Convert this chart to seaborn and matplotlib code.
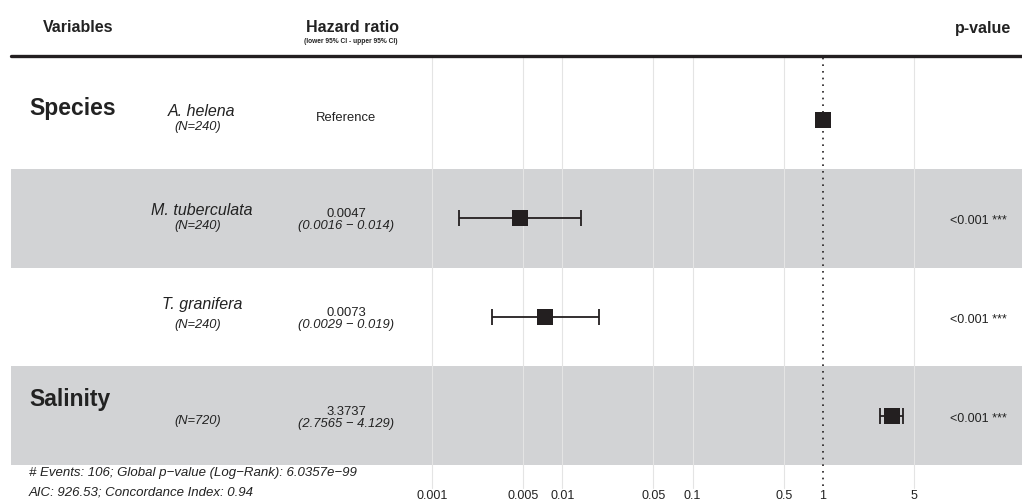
import numpy as np
import pandas as pd
import seaborn as sns
import matplotlib.pyplot as plt
from matplotlib.transforms import blended_transform_factory


# data
variables = ["Species", "", "", "Salinity"]
levels = ["A. helena", "M. tuberculata", "T. granifera", ""]
n_obs = [240, 240, 240, 720]
hr = [1.0, 0.0047, 0.0073, 3.3737]
ci_low = [np.nan, 0.0016, 0.0029, 2.7565]
ci_high = [np.nan, 0.014, 0.019, 4.129]
hr_text = ["Reference", "0.0047", "0.0073", "3.3737"]
ci_text = ["", "(0.0016 \u2212 0.014)", "(0.0029 \u2212 0.019)", "(2.7565 \u2212 4.129)"]
p_text = ["", "<0.001 ***", "<0.001 ***", "<0.001 ***"]
breaks = [0.001, 0.005, 0.01, 0.05, 0.1, 0.5, 1, 5]
break_labels = ["0.001", "0.005", "0.01", "0.05", "0.1", "0.5", "1", "5"]
footnote = ["# Events: 106; Global p\u2212value (Log\u2212Rank): 6.0357e\u221299",
            "AIC: 926.53; Concordance Index: 0.94"]

df = pd.DataFrame({"var": variables, "level": levels, "n": n_obs,
                   "hr": hr, "low": ci_low, "high": ci_high})
df["row"] = np.arange(len(df))

W, H = 1022, 502
ROW = 98.7      # px per row
ROW0 = 120.5    # px centre of first row
INK = "#231f20"
TXT = "#222222"
BAND = "#d2d3d5"

sns.set_theme(style="white")
plt.rcParams["font.family"] = ["Liberation Sans", "DejaVu Sans"]

fig = plt.figure(figsize=(W / 100, H / 100), dpi=100)
ax = fig.add_axes([0, 0, 1, 1])
ax.set_xscale("log")
dec = (823 - 432) / 3.0
ax.set_xlim(10 ** (-3 - 432 / dec), 10 ** ((W - 823) / dec))
ax.set_ylim((H - ROW0) / ROW, -ROW0 / ROW)
ax.axis("off")

# grey bands on every second row
for r in df["row"]:
    if r % 2 == 1:
        ax.axhspan(r - 0.5, r + 0.5, xmin=11 / W, xmax=1, color=BAND, lw=0, zorder=0)

# grid + reference line
g_lo, g_hi = 1 - 489 / H, 1 - 58 / H
for b in breaks:
    if b != 1:
        ax.axvline(b, ymin=g_lo, ymax=g_hi, color="#e4e4e4", lw=0.8, zorder=1)
ax.axvline(1, ymin=1 - 487 / H, ymax=g_hi, color=INK, lw=1.2, ls=(0, (1, 3)), zorder=2)

# header rule
ax.axhline((57 - ROW0) / ROW, xmin=11 / W, xmax=1, color=INK, lw=2.4, zorder=3)

# estimates
ci = df.dropna()
ax.errorbar(ci["hr"], ci["row"], xerr=[ci["hr"] - ci["low"], ci["high"] - ci["hr"]],
            fmt="none", ecolor=INK, elinewidth=1.3, capsize=5.5, capthick=1.3, zorder=4)
sns.scatterplot(data=df, x="hr", y="row", marker="s", s=125, color=INK,
                edgecolor=INK, linewidth=0, ax=ax, zorder=5, legend=False)

tr = blended_transform_factory(ax.transAxes, ax.transData)


def put(xpx, row, dy, s, **kw):
    ax.text(xpx / W, row + dy / ROW, s, transform=tr, va="baseline", color=TXT, **kw)


for _, d in df.iterrows():
    r = d["row"]
    if d["var"]:
        put(29, r, -5.5 if r == 0 else -11, d["var"], fontsize=16.5, fontweight="bold", ha="left")
    if d["level"]:
        put(202, r, -4.5 if r < 2 else -9, d["level"], fontsize=11.5, style="italic", ha="center")
    put(198, r, 10 if r < 3 else 7, f"(N={d['n']})", fontsize=9.3, style="italic", ha="center")

for r, (est, c, p) in enumerate(zip(hr_text, ci_text, p_text)):
    if c:
        put(346, r, -2, est, fontsize=9.4, ha="center")
        put(346, r, 10, c, fontsize=9.4, style="italic", ha="center")
    else:
        put(346, r, 0.5, est, fontsize=9.4, ha="center")
    if p:
        put(978, r, 5, p, fontsize=9, ha="center")

# column headers
fig.text(78 / W, 1 - 32 / H, "Variables", fontsize=11.5, fontweight="bold", ha="center", va="baseline", color=TXT)
fig.text(352 / W, 1 - 32 / H, "Hazard ratio", fontsize=11.5, fontweight="bold", ha="center", va="baseline", color=TXT)
fig.text(351 / W, 1 - 43 / H, "(lower 95% CI - upper 95% CI)", fontsize=4.8, fontweight="bold",
         ha="center", va="baseline", color=TXT)
fig.text(1011 / W, 1 - 33 / H, "p-value", fontsize=11.5, fontweight="bold", ha="right", va="baseline", color=TXT)

# footnote
for i, line in enumerate(footnote):
    fig.text(29 / W, 1 - (476 + 19.5 * i) / H, line, fontsize=9.5, style="italic",
             ha="left", va="baseline", color=TXT)

# tick labels
xt = blended_transform_factory(ax.transData, fig.transFigure)
for b, lab in zip(breaks, break_labels):
    ax.text(b, 1 - 499 / H, lab, transform=xt, fontsize=9, ha="center", va="baseline",
            color=TXT, clip_on=False)

fig.savefig("out.png", dpi=100)
